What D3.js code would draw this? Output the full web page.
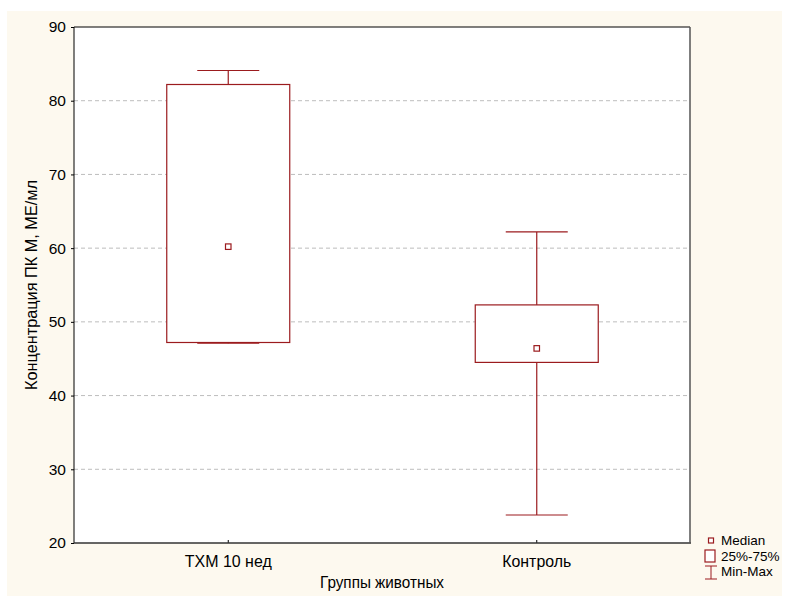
<!DOCTYPE html>
<html><head><meta charset="utf-8">
<script src="https://cdn.jsdelivr.net/npm/d3@7"></script>
<style>body{margin:0;background:#fff;} svg{display:block;font-family:"Liberation Sans",Arial,sans-serif;}</style>
</head><body>
<script>
const categories = ["ТХМ 10 нед", "Контроль"];
const minVals    = [47.1, 23.8];
const q1Vals     = [47.2, 44.5];
const medianVals = [60.2, 46.4];
const q3Vals     = [82.2, 52.3];
const maxVals    = [84.1, 62.2];
const yTicks     = [20, 30, 40, 50, 60, 70, 80, 90];
const legendLabels = ["Median", "25%-75%", "Min-Max"];
const yTitle = "Концентрация ПК М, МЕ/мл";
const xTitle = "Группы животных";

const W = 789, H = 597;
const red = "#9b1b1e";
const m = {left: 74, top: 27, right: 690, bottom: 543};

const svg = d3.select("body").append("svg").attr("width", W).attr("height", H);
svg.append("rect").attr("x", 7).attr("y", 11).attr("width", 775).attr("height", 585).attr("fill", "#fdf9ef");
svg.append("rect").attr("x", m.left).attr("y", m.top).attr("width", m.right - m.left).attr("height", m.bottom - m.top).attr("fill", "#fff");

const y = d3.scaleLinear().domain([20, 90]).range([m.bottom, m.top]);
const x = d3.scaleBand().domain(categories).range([m.left, m.right + 1]).paddingInner(0).paddingOuter(0);
const cx = c => x(c) + x.bandwidth() / 2;

// grid
svg.append("g").selectAll("line").data(yTicks.filter(t => t > 20 && t < 90)).join("line")
  .attr("x1", m.left).attr("x2", m.right).attr("y1", d => y(d)).attr("y2", d => y(d))
  .attr("stroke", "#bdbdbd").attr("stroke-dasharray", "4,3").attr("stroke-width", 1);

// axes
const yAxis = svg.append("g").attr("transform", `translate(${m.left},0)`)
  .call(d3.axisLeft(y).tickValues(yTicks).tickSize(3).tickPadding(5));
yAxis.select(".domain").remove();
yAxis.selectAll("text").attr("font-size", 15.5).attr("fill", "#000").attr("font-family", "Liberation Sans, Arial");
yAxis.selectAll("line").attr("stroke", "#000");

const xAxis = svg.append("g").attr("transform", `translate(0,${m.bottom})`)
  .call(d3.axisTop(x).tickSize(3).tickPadding(0));
xAxis.select(".domain").remove();
xAxis.selectAll("text").remove();
xAxis.selectAll("line").attr("stroke", "#000");
const catLen = [87, 69];
svg.append("g").selectAll("text").data(categories).join("text")
  .attr("x", d => cx(d)).attr("y", 567).attr("text-anchor", "middle")
  .attr("font-size", 16).attr("textLength", (d, i) => catLen[i]).attr("lengthAdjust", "spacingAndGlyphs").text(d => d);

// frame
svg.append("line").attr("x1", m.left).attr("x2", m.right).attr("y1", m.top).attr("y2", m.top).attr("stroke", "#000");
svg.append("line").attr("x1", m.left).attr("x2", m.left).attr("y1", m.top).attr("y2", m.bottom).attr("stroke", "#000");
svg.append("line").attr("x1", m.left).attr("x2", m.right + 1).attr("y1", m.bottom).attr("y2", m.bottom).attr("stroke", "#333").attr("stroke-width", 1.5);
svg.append("line").attr("x1", m.right).attr("x2", m.right).attr("y1", m.top).attr("y2", m.bottom).attr("stroke", "#555").attr("stroke-width", 1.5);

// boxes
const boxW = 123, capW = 62;
categories.forEach((c, i) => {
  const g = svg.append("g").attr("stroke", red).attr("fill", "none").attr("stroke-width", 1.2);
  const xc = cx(c);
  g.append("line").attr("x1", xc).attr("x2", xc).attr("y1", y(maxVals[i])).attr("y2", y(q3Vals[i]));
  g.append("line").attr("x1", xc).attr("x2", xc).attr("y1", y(q1Vals[i])).attr("y2", y(minVals[i]));
  g.append("line").attr("x1", xc - capW/2).attr("x2", xc + capW/2).attr("y1", y(maxVals[i])).attr("y2", y(maxVals[i]));
  g.append("line").attr("x1", xc - capW/2).attr("x2", xc + capW/2).attr("y1", y(minVals[i])).attr("y2", y(minVals[i]));
  g.append("rect").attr("x", xc - boxW/2).attr("width", boxW)
    .attr("y", y(q3Vals[i])).attr("height", y(q1Vals[i]) - y(q3Vals[i])).attr("fill", "#fff");
  g.append("rect").attr("x", xc - 2.75).attr("y", y(medianVals[i]) - 2.75).attr("width", 5.5).attr("height", 5.5).attr("fill", "#fff");
});

// titles
svg.append("text").attr("transform", `translate(37,${(m.top + m.bottom)/2}) rotate(-90)`)
  .attr("text-anchor", "middle").attr("font-size", 16)
  .attr("textLength", 210).attr("lengthAdjust", "spacingAndGlyphs").text(yTitle);
svg.append("text").attr("x", (m.left + m.right)/2).attr("y", 588).attr("text-anchor", "middle")
  .attr("font-size", 16).attr("textLength", 124).attr("lengthAdjust", "spacingAndGlyphs").text(xTitle);

// legend
const lg = svg.append("g").attr("font-size", 13.5);
lg.append("rect").attr("x", 708.5).attr("y", 538).attr("width", 5).attr("height", 5).attr("fill", "#fff").attr("stroke", red).attr("stroke-width", 1.2);
lg.append("rect").attr("x", 705).attr("y", 550).attr("width", 10).attr("height", 12).attr("fill", "#fff").attr("stroke", red).attr("stroke-width", 1.2);
lg.append("line").attr("x1", 705).attr("x2", 717).attr("y1", 566).attr("y2", 566).attr("stroke", red);
lg.append("line").attr("x1", 705).attr("x2", 717).attr("y1", 579).attr("y2", 579).attr("stroke", red);
lg.append("line").attr("x1", 711).attr("x2", 711).attr("y1", 566).attr("y2", 579).attr("stroke", red);
const legY = [545, 561, 576];
lg.selectAll("text.l").data(legendLabels).join("text").attr("class", "l")
  .attr("x", 721).attr("y", (d, i) => legY[i]).text(d => d);
</script>
</body></html>
